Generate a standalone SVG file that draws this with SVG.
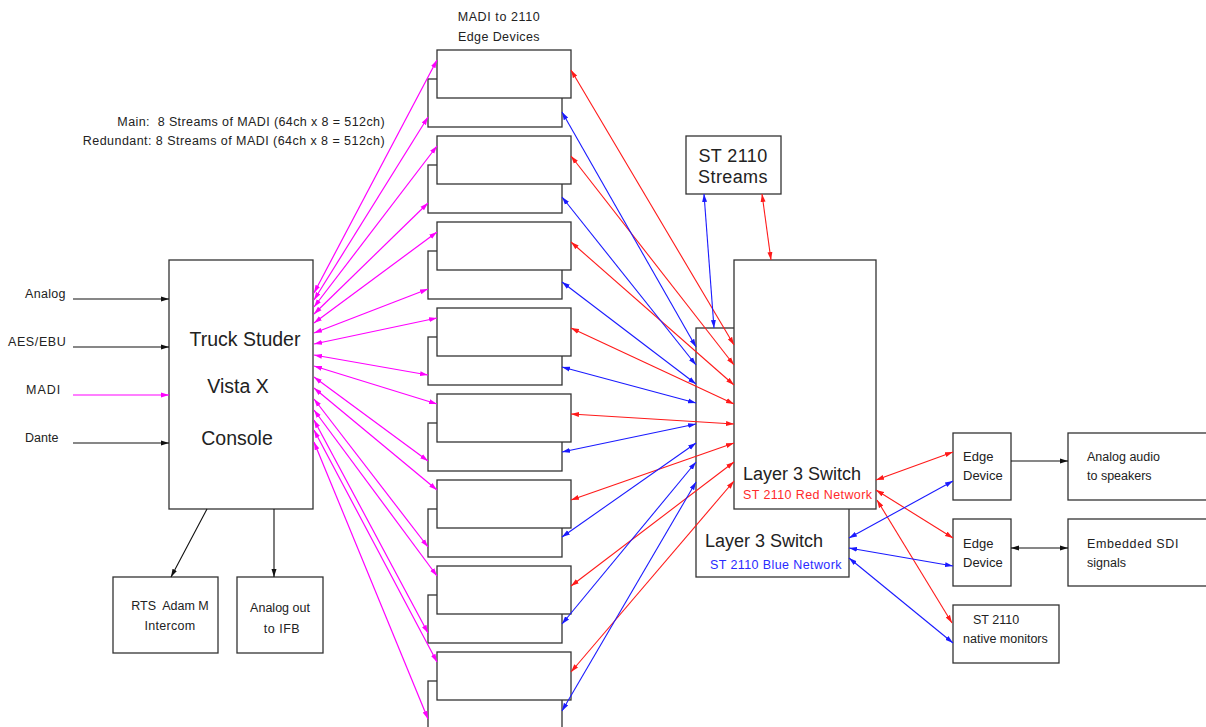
<svg xmlns="http://www.w3.org/2000/svg" width="1206" height="727" viewBox="0 0 1206 727">
<style>
.box{fill:#fff;stroke:#333;stroke-width:1.3}
.t{font-family:"Liberation Sans",Arial,sans-serif;fill:#222}
.s12{font-size:12.5px}
.s13{font-size:13px}
.big{font-size:19.5px}
.st{font-size:18px}
.sw{font-size:18px}
.cb{fill:none;stroke:#111;stroke-width:1.1}
.cm{fill:none;stroke:#ff00ff;stroke-width:1.2}
.cr{fill:none;stroke:#ff1a1a;stroke-width:1.1}
.cbl{fill:none;stroke:#1a1aff;stroke-width:1.1}
.k{marker-end:url(#ak)}
.kk{marker-start:url(#ak);marker-end:url(#ak)}
.mm{marker-start:url(#am);marker-end:url(#am)}
.m1{marker-end:url(#am)}
.rr{marker-start:url(#ar);marker-end:url(#ar)}
.bb{marker-start:url(#ab);marker-end:url(#ab)}
</style>
<defs>
<marker id="ak" viewBox="0 0 8 6" refX="8" refY="3" markerWidth="8" markerHeight="6" markerUnits="userSpaceOnUse" orient="auto-start-reverse"><path d="M0,0.5 L8,3 L0,5.5 z" fill="#111"/></marker>
<marker id="am" viewBox="0 0 8 6" refX="8" refY="3" markerWidth="8" markerHeight="6" markerUnits="userSpaceOnUse" orient="auto-start-reverse"><path d="M0,0.5 L8,3 L0,5.5 z" fill="#ff00ff"/></marker>
<marker id="ar" viewBox="0 0 8 6" refX="8" refY="3" markerWidth="8" markerHeight="6" markerUnits="userSpaceOnUse" orient="auto-start-reverse"><path d="M0,0.5 L8,3 L0,5.5 z" fill="#ff1a1a"/></marker>
<marker id="ab" viewBox="0 0 8 6" refX="8" refY="3" markerWidth="8" markerHeight="6" markerUnits="userSpaceOnUse" orient="auto-start-reverse"><path d="M0,0.5 L8,3 L0,5.5 z" fill="#1a1aff"/></marker>
</defs>
<rect width="1206" height="727" fill="#fff"/>

<g id="labels">
<text class="t s12" x="499" y="21" text-anchor="middle" letter-spacing="0.6">MADI to 2110</text>
<text class="t s12" x="499" y="40.5" text-anchor="middle" letter-spacing="0.4">Edge Devices</text>
<text class="t s12" x="385" y="126" text-anchor="end" letter-spacing="0.4" xml:space="preserve">Main:  8 Streams of MADI (64ch x 8 = 512ch)</text>
<text class="t s12" x="385" y="145" text-anchor="end" letter-spacing="0.45">Redundant: 8 Streams of MADI (64ch x 8 = 512ch)</text>
<text class="t s12" x="25" y="298" letter-spacing="0.3">Analog</text>
<text class="t s12" x="8" y="346" letter-spacing="0.6">AES/EBU</text>
<text class="t s12" x="26" y="394" letter-spacing="1">MADI</text>
<text class="t s12" x="25" y="442">Dante</text>
</g>

<g id="console">
<rect class="box" x="169" y="260" width="144" height="249"/>
<text class="t big" x="245" y="346" text-anchor="middle">Truck Studer</text>
<text class="t big" x="238" y="393" text-anchor="middle">Vista X</text>
<text class="t big" x="237" y="445" text-anchor="middle">Console</text>
</g>
<g id="rts">
<rect class="box" x="113" y="577" width="105" height="76"/>
<text class="t s12" x="170" y="610" text-anchor="middle" xml:space="preserve">RTS  Adam M</text>
<text class="t s12" x="170" y="630" text-anchor="middle" letter-spacing="0.3">Intercom</text>
</g>
<g id="ifb">
<rect class="box" x="237" y="577" width="86" height="76"/>
<text class="t s12" x="280" y="612" text-anchor="middle">Analog out</text>
<text class="t s12" x="282" y="633" text-anchor="middle" letter-spacing="0.5">to IFB</text>
</g>

<g id="e1b"><rect class="box" x="428" y="79" width="134" height="48"/></g>
<g id="e1f"><rect class="box" x="437" y="50" width="134" height="48"/></g>
<g id="e2b"><rect class="box" x="428" y="165" width="134" height="48"/></g>
<g id="e2f"><rect class="box" x="437" y="136" width="134" height="48"/></g>
<g id="e3b"><rect class="box" x="428" y="251" width="134" height="48"/></g>
<g id="e3f"><rect class="box" x="437" y="222" width="134" height="48"/></g>
<g id="e4b"><rect class="box" x="428" y="337" width="134" height="48"/></g>
<g id="e4f"><rect class="box" x="437" y="308" width="134" height="48"/></g>
<g id="e5b"><rect class="box" x="428" y="423" width="134" height="48"/></g>
<g id="e5f"><rect class="box" x="437" y="394" width="134" height="48"/></g>
<g id="e6b"><rect class="box" x="428" y="509" width="134" height="48"/></g>
<g id="e6f"><rect class="box" x="437" y="480" width="134" height="48"/></g>
<g id="e7b"><rect class="box" x="428" y="595" width="134" height="48"/></g>
<g id="e7f"><rect class="box" x="437" y="566" width="134" height="48"/></g>
<g id="e8b"><rect class="box" x="428" y="681" width="134" height="48"/></g>
<g id="e8f"><rect class="box" x="437" y="652" width="134" height="48"/></g>

<g id="streams">
<rect class="box" x="686" y="136" width="95" height="58"/>
<text class="t st" x="733" y="162" text-anchor="middle" letter-spacing="0.4">ST 2110</text>
<text class="t st" x="733" y="183" text-anchor="middle" letter-spacing="0.4">Streams</text>
</g>

<g id="switch-blue">
<rect class="box" x="696" y="328" width="153" height="249"/>
<text class="t sw" x="705" y="547">Layer 3 Switch</text>
<text class="s12" x="710" y="569" fill="#2a2aff" font-family="Liberation Sans, Arial, sans-serif" letter-spacing="0.4">ST 2110 Blue Network</text>
</g>
<g id="switch-red">
<rect class="box" x="734" y="260" width="142" height="249"/>
<text class="t sw" x="743" y="480">Layer 3 Switch</text>
<text class="s12" x="743" y="499" fill="#ff2a2a" font-family="Liberation Sans, Arial, sans-serif" letter-spacing="0.4">ST 2110 Red Network</text>
</g>

<g id="edge-out1">
<rect class="box" x="953" y="433" width="58" height="67"/>
<text class="t s13" x="963" y="461">Edge</text>
<text class="t s13" x="963" y="480">Device</text>
</g>
<g id="edge-out2">
<rect class="box" x="953" y="519" width="58" height="67"/>
<text class="t s13" x="963" y="548">Edge</text>
<text class="t s13" x="963" y="567">Device</text>
</g>
<g id="speakers">
<rect class="box" x="1068" y="433" width="140" height="67"/>
<text class="t s12" x="1087" y="461">Analog audio</text>
<text class="t s12" x="1087" y="480">to speakers</text>
</g>
<g id="sdi">
<rect class="box" x="1068" y="519" width="140" height="67"/>
<text class="t s12" x="1087" y="548" letter-spacing="0.6">Embedded SDI</text>
<text class="t s12" x="1087" y="567">signals</text>
</g>
<g id="monitors">
<rect class="box" x="953" y="605" width="106" height="58"/>
<text class="t s12" x="973" y="624">ST 2110</text>
<text class="t s12" x="963" y="643">native monitors</text>
</g>

<g id="connectors">
<line class="cb k" x1="73" y1="299" x2="169" y2="299"/>
<line class="cb k" x1="73" y1="347" x2="169" y2="347"/>
<line class="cm m1" x1="73" y1="395" x2="169" y2="395"/>
<line class="cb k" x1="73" y1="443" x2="169" y2="443"/>
<line class="cb k" x1="207" y1="509" x2="171" y2="577"/>
<line class="cb k" x1="274" y1="509" x2="274" y2="577"/>

<line class="cm mm" x1="314" y1="293" x2="437" y2="60"/>
<line class="cm mm" x1="314" y1="300" x2="428" y2="117"/>
<line class="cm mm" x1="314" y1="307" x2="437" y2="146"/>
<line class="cm mm" x1="314" y1="314" x2="428" y2="203"/>
<line class="cm mm" x1="314" y1="323" x2="437" y2="232"/>
<line class="cm mm" x1="314" y1="333" x2="428" y2="289"/>
<line class="cm mm" x1="314" y1="344" x2="437" y2="318"/>
<line class="cm mm" x1="314" y1="355" x2="428" y2="375"/>
<line class="cm mm" x1="314" y1="366" x2="437" y2="404"/>
<line class="cm mm" x1="314" y1="377" x2="428" y2="461"/>
<line class="cm mm" x1="314" y1="388" x2="437" y2="490"/>
<line class="cm mm" x1="314" y1="399" x2="428" y2="547"/>
<line class="cm mm" x1="314" y1="410" x2="437" y2="576"/>
<line class="cm mm" x1="314" y1="420" x2="428" y2="633"/>
<line class="cm mm" x1="314" y1="430" x2="437" y2="662"/>
<line class="cm mm" x1="314" y1="442" x2="428" y2="719"/>

<line class="cr rr" x1="571" y1="70" x2="734" y2="345"/>
<line class="cr rr" x1="571" y1="156" x2="734" y2="365"/>
<line class="cr rr" x1="571" y1="242" x2="734" y2="385"/>
<line class="cr rr" x1="571" y1="328" x2="734" y2="404"/>
<line class="cr rr" x1="571" y1="414" x2="734" y2="424"/>
<line class="cr rr" x1="571" y1="500" x2="734" y2="443"/>
<line class="cr rr" x1="571" y1="586" x2="734" y2="462"/>
<line class="cr rr" x1="571" y1="672" x2="734" y2="481"/>

<line class="cbl bb" x1="562" y1="112" x2="696" y2="347"/>
<line class="cbl bb" x1="562" y1="197" x2="696" y2="365"/>
<line class="cbl bb" x1="562" y1="282" x2="696" y2="384"/>
<line class="cbl bb" x1="562" y1="367" x2="696" y2="403"/>
<line class="cbl bb" x1="562" y1="452" x2="696" y2="424"/>
<line class="cbl bb" x1="562" y1="537" x2="696" y2="443"/>
<line class="cbl bb" x1="562" y1="624" x2="696" y2="462"/>
<line class="cbl bb" x1="562" y1="711" x2="696" y2="482"/>

<line class="cbl bb" x1="704" y1="194" x2="714" y2="328"/>
<line class="cr rr" x1="762" y1="194" x2="771" y2="260"/>

<line class="cr rr" x1="876" y1="480" x2="953" y2="452"/>
<line class="cr rr" x1="876" y1="490" x2="953" y2="538"/>
<line class="cr rr" x1="877" y1="500" x2="952" y2="623"/>
<line class="cbl bb" x1="849" y1="538" x2="953" y2="481"/>
<line class="cbl bb" x1="849" y1="548" x2="953" y2="566"/>
<line class="cbl bb" x1="849" y1="558" x2="953" y2="643"/>

<line class="cb k" x1="1011" y1="461" x2="1068" y2="461"/>
<line class="cb kk" x1="1011" y1="548" x2="1068" y2="548"/>
</g>
</svg>
